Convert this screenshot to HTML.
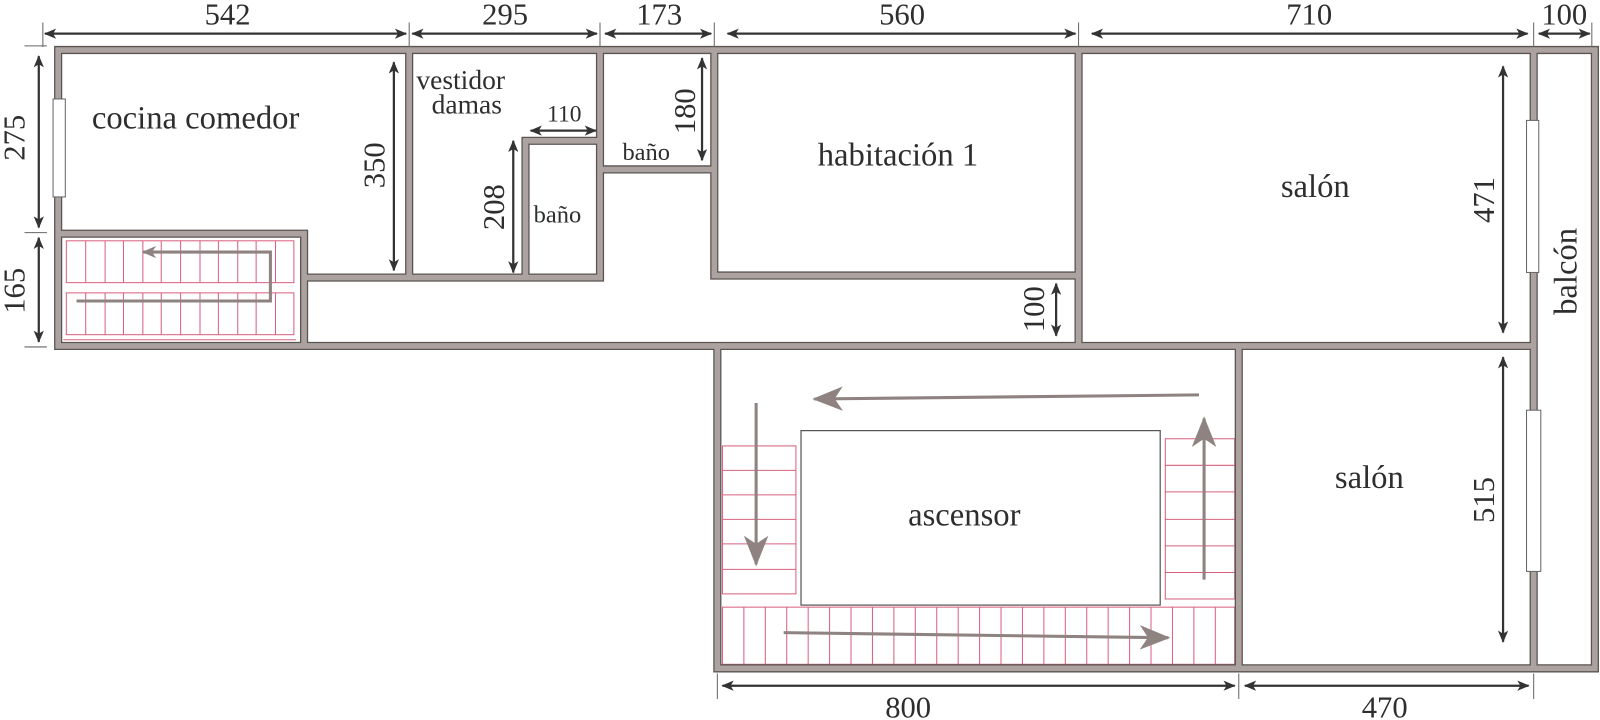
<!DOCTYPE html>
<html><head><meta charset="utf-8"><style>
html,body{margin:0;padding:0;background:#fff;}
svg{display:block;}
text{font-family:"Liberation Serif","DejaVu Serif","Times New Roman",serif;fill:#2e2e2e;}
</style></head><body>
<svg width="1600" height="720" viewBox="0 0 1568 705.6" xmlns="http://www.w3.org/2000/svg" font-family="Liberation Serif, DejaVu Serif, serif">
<defs>
<marker id="a" viewBox="0 0 12 10" refX="11" refY="5" markerWidth="12" markerHeight="10" markerUnits="userSpaceOnUse" orient="auto-start-reverse">
<path d="M0,0 L12,5 L0,10 L3,5 Z" fill="#333"/></marker>
<marker id="g" viewBox="0 0 30 24" refX="28" refY="12" markerWidth="30" markerHeight="24" markerUnits="userSpaceOnUse" orient="auto">
<path d="M0,0 L30,12 L0,24 L8,12 Z" fill="#8e8380"/></marker>
<marker id="gs" viewBox="0 0 14 12" refX="13" refY="6" markerWidth="14" markerHeight="12" markerUnits="userSpaceOnUse" orient="auto">
<path d="M0,0 L14,6 L0,12 L4,6 Z" fill="#8e8380"/></marker>
</defs>

<g stroke="#d9607f" stroke-width="1" fill="none">
<rect x="65" y="236" width="223" height="41"/>
<rect x="65" y="287" width="223" height="41"/>
<line x1="62" y1="333" x2="290" y2="333"/>
<path d="M84,236V277M103,236V277M121,236V277M140,236V277M158,236V277M177,236V277M196,236V277M214,236V277M233,236V277M251,236V277M270,236V277"/>
<path d="M84,287V328M103,287V328M121,287V328M140,287V328M158,287V328M177,287V328M196,287V328M214,287V328M233,287V328M251,287V328M270,287V328"/>
<rect x="708" y="437" width="72" height="145"/>
<path d="M708,461H780M708,485H780M708,509H780M708,533H780M708,558H780"/>
<rect x="1142" y="430" width="68" height="157"/>
<path d="M1142,456H1210M1142,482H1210M1142,509H1210M1142,535H1210M1142,561H1210"/>
<rect x="708" y="595" width="502" height="56"/>
<path d="M729,595V651M750,595V651M771,595V651M792,595V651M813,595V651M834,595V651M855,595V651M876,595V651M897,595V651M918,595V651M939,595V651M960,595V651M981,595V651M1002,595V651M1023,595V651M1044,595V651M1065,595V651M1086,595V651M1107,595V651M1128,595V651M1149,595V651M1170,595V651M1191,595V651"/>
</g>
<rect x="785" y="422" width="352" height="171" fill="#fff" stroke="#555" stroke-width="1.2"/>

<g fill="none" stroke-linejoin="miter" stroke-linecap="square">
<path stroke="#5a5453" stroke-width="8" d="M57,49H1563M57,49V339H1503M1563,49V655M1503,49V655M703,339V655H1563M1214,339V655M57,229H298V339M298,272H588M401,49V272M588,49V272M515,272V138H588M588,166H700M700,49V270H1057M1057,49V339"/>
<path stroke="#aca29f" stroke-width="5.5" d="M57,49H1563M57,49V339H1503M1563,49V655M1503,49V655M703,339V655H1563M1214,339V655M57,229H298V339M298,272H588M401,49V272M588,49V272M515,272V138H588M588,166H700M700,49V270H1057M1057,49V339"/>
</g>
<g fill="#fff" stroke="#666" stroke-width="1">
<rect x="52" y="97" width="12" height="96"/>
<rect x="1496" y="118" width="12" height="149"/>
<rect x="1496" y="402" width="14" height="158"/>
</g>

<g stroke="#8e8380" stroke-width="3" fill="none">
<path d="M75,295H265V247H140" marker-end="url(#gs)"/>
<line x1="1175" y1="387" x2="798" y2="391" marker-end="url(#g)"/>
<line x1="741" y1="395" x2="741" y2="553" marker-end="url(#g)"/>
<line x1="1180" y1="568" x2="1180" y2="410" marker-end="url(#g)"/>
<line x1="768" y1="620" x2="1145" y2="625" marker-end="url(#g)"/>
</g>

<g stroke="#666" stroke-width="1">
<path d="M42,22V46M401,22V46M588,22V46M700,22V46M1057,22V46M1503,22V46M1560,22V46"/>
<path d="M24,45H46M24,228H46M24,340H46"/>
<path d="M703,660V685M1214,660V685M1503,660V685"/>
</g>
<g stroke="#333" stroke-width="2.2" fill="none" marker-start="url(#a)" marker-end="url(#a)">
<line x1="44" y1="33" x2="398" y2="33"/>
<line x1="404" y1="33" x2="585" y2="33"/>
<line x1="593" y1="33" x2="697" y2="33"/>
<line x1="713" y1="33" x2="1054" y2="33"/>
<line x1="1070" y1="33" x2="1497" y2="33"/>
<line x1="1508" y1="33" x2="1558" y2="33"/>
<line x1="38" y1="55" x2="38" y2="223"/>
<line x1="38" y1="233" x2="38" y2="335"/>
<line x1="386" y1="61" x2="386" y2="265"/>
<line x1="520" y1="128" x2="584" y2="128"/>
<line x1="503" y1="138" x2="503" y2="267"/>
<line x1="688" y1="57" x2="688" y2="157"/>
<line x1="1035" y1="278" x2="1035" y2="329"/>
<line x1="1473" y1="65" x2="1473" y2="326"/>
<line x1="1473" y1="350" x2="1473" y2="629"/>
<line x1="708" y1="672" x2="1210" y2="672"/>
<line x1="1220" y1="672" x2="1498" y2="672"/>
</g>

<g font-size="30" text-anchor="middle">
<text x="223" y="24">542</text>
<text x="495" y="24">295</text>
<text x="646" y="24">173</text>
<text x="884" y="24">560</text>
<text x="1283" y="24">710</text>
<text x="1533" y="24">100</text>
<text x="890" y="703">800</text>
<text x="1357" y="703">470</text>
<text x="553" y="119" font-size="23">110</text>
<text transform="translate(24,135) rotate(-90)">275</text>
<text transform="translate(24,285) rotate(-90)">165</text>
<text transform="translate(377,162) rotate(-90)">350</text>
<text transform="translate(494,203) rotate(-90)">208</text>
<text transform="translate(681,109) rotate(-90)">180</text>
<text transform="translate(1023,303) rotate(-90)">100</text>
<text transform="translate(1464,196) rotate(-90)">471</text>
<text transform="translate(1464,490) rotate(-90)">515</text>
</g>
<g font-size="32">
<text x="90" y="126">cocina comedor</text>
<text x="408" y="87" font-size="27">vestidor</text>
<text x="423" y="111" font-size="27">damas</text>
<text x="610" y="157" font-size="24">baño</text>
<text x="523" y="218" font-size="24">baño</text>
<text x="880" y="162" text-anchor="middle">habitación 1</text>
<text x="1289" y="193" text-anchor="middle">salón</text>
<text x="1342" y="478" text-anchor="middle">salón</text>
<text x="945" y="515" text-anchor="middle">ascensor</text>
<text transform="translate(1545,266) rotate(-90)" text-anchor="middle">balcón</text>
</g>
</svg>
</body></html>
